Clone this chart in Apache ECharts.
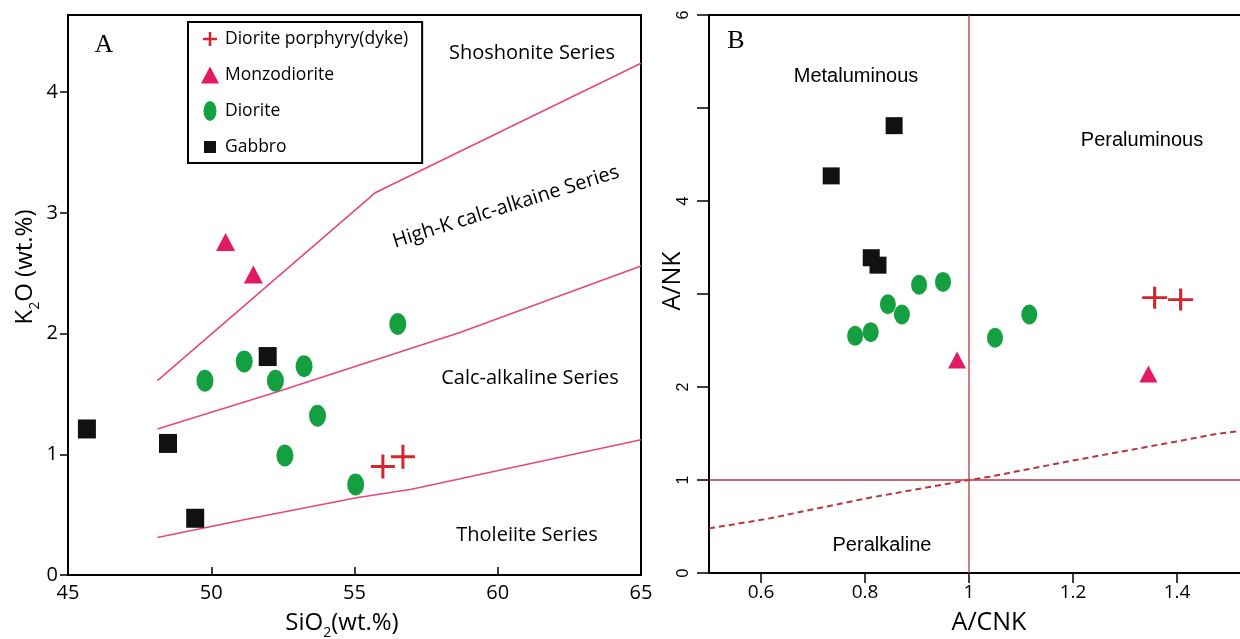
<!DOCTYPE html>
<html><head><meta charset="utf-8">
<script src="https://cdn.jsdelivr.net/npm/echarts@6/dist/echarts.min.js"></script>
<style>html,body{margin:0;padding:0;background:#fff}#c{width:1240px;height:639px}</style>
</head><body><div id="c"></div>
<script>
// ---- Panel A: SiO2 vs K2O ----
const seriesNames = ['Diorite porphyry(dyke)', 'Monzodiorite', 'Diorite', 'Gabbro'];
const sio2Porphyry = [55.99, 56.69];
const k2oPorphyry  = [0.90, 0.98];
const sio2Monzo = [50.50, 51.47];
const k2oMonzo  = [2.76, 2.49];
const sio2Diorite = [49.78, 51.15, 52.24, 53.24, 56.51, 53.71, 52.57, 55.04];
const k2oDiorite  = [1.61, 1.77, 1.61, 1.73, 2.08, 1.32, 0.99, 0.75];
const sio2Gabbro = [45.66, 48.49, 51.97, 49.44];
const k2oGabbro  = [1.21, 1.09, 1.81, 0.47];
// series boundaries
const shoshLineX = [48.12, 55.74, 65];
const shoshLineY = [1.61, 3.17, 4.24];
const highKLineX = [48.12, 52.06, 58.68, 65];
const highKLineY = [1.21, 1.50, 2.01, 2.56];
const tholLineX = [48.12, 51.1, 55.07, 56.99, 65];
const tholLineY = [0.31, 0.455, 0.64, 0.71, 1.12];
const xTicksA = [45, 50, 55, 60, 65];
const yTicksA = [0, 1, 2, 3, 4];

// ---- Panel B: A/CNK vs A/NK ----
const acnkPorphyry = [1.357, 1.407];
const ankPorphyry  = [2.96, 2.94];
const acnkMonzo = [0.977, 1.345];
const ankMonzo  = [2.29, 2.14];
const acnkDiorite = [0.781, 0.811, 0.844, 0.871, 0.904, 0.950, 1.050, 1.116];
const ankDiorite  = [2.55, 2.59, 2.89, 2.78, 3.10, 3.13, 2.53, 2.78];
const acnkGabbro = [0.856, 0.735, 0.812, 0.825];
const ankGabbro  = [4.81, 4.27, 3.39, 3.31];
const vLineX = [1, 1];
const vLineY = [0, 6];
const hLineX = [0.5, 1.525];
const hLineY = [1, 1];
const dashX = [0.5, 0.61, 0.8, 1.0, 1.04, 1.2, 1.4, 1.47, 1.525];
const dashY = [0.48, 0.58, 0.80, 1.0, 1.036, 1.21, 1.415, 1.49, 1.53];
const xTicksB = [0.6, 0.8, 1, 1.2, 1.4];
const yTicksBLabels = [0, 1, 2, 4, 6];
const yTicksB = [0, 1, 2, 3, 4, 5, 6];

const zip = (a, b) => a.map((v, i) => [v, b[i]]);

const FONT = "'Open Sans', 'Noto Sans', sans-serif";
const ARIAL = "'Liberation Sans', Arial, sans-serif";
const SERIF = "'Liberation Serif', 'DejaVu Serif', serif";

const crossPath = 'path://M10.5,0H13.5V10.5H24V13.5H13.5V24H10.5V13.5H0V10.5H10.5Z';
const ellipsePath = 'path://M0,1A1,1 0 1,0 2,1A1,1 0 1,0 0,1Z';

const C_CROSS = '#d3252b', C_TRI = '#e21a63', C_DIO = '#14a040', C_GAB = '#111111';
const C_PINK = '#e6477f', C_RED = '#b8363c';

function sc(name, xi, xs, ys, symbol, size, color) {
  return { name, type: 'scatter', xAxisIndex: xi, yAxisIndex: xi, data: zip(xs, ys),
    symbol, symbolSize: size, itemStyle: { color, opacity: 1 }, z: 5, silent: true };
}
function ln(xi, xs, ys, color, width, type) {
  return { type: 'line', xAxisIndex: xi, yAxisIndex: xi, data: zip(xs, ys), showSymbol: false,
    symbol: 'none', lineStyle: { color, width, type: type || 'solid' }, z: 2, silent: true, animation: false };
}

const chart = echarts.init(document.getElementById('c'), null, { renderer: 'canvas' });
const axisLineStyle = { color: '#000', width: 2 };

chart.setOption({
  animation: false,
  backgroundColor: '#fff',
  grid: [
    { left: 68, top: 15, width: 573, height: 560, show: true, borderColor: '#000', borderWidth: 2, backgroundColor: 'transparent', outerBoundsMode: 'none' },
    { left: 709, top: 15, width: 533, height: 558, show: true, borderColor: '#000', borderWidth: 2, backgroundColor: 'transparent', outerBoundsMode: 'none' }
  ],
  xAxis: [
    { gridIndex: 0, type: 'value', min: 45, max: 65, interval: 5,
      axisLine: { show: true, onZero: false, lineStyle: axisLineStyle },
      axisTick: { show: true, inside: true, length: 8, customValues: xTicksA, lineStyle: { color: '#000', width: 1.5 } },
      axisLabel: { customValues: xTicksA, fontSize: 20, color: '#000', fontFamily: FONT, margin: 8 },
      splitLine: { show: false } },
    { gridIndex: 1, type: 'value', min: 0.5, max: 1.525, interval: 0.1,
      axisLine: { show: true, onZero: false, lineStyle: axisLineStyle },
      axisTick: { show: true, inside: false, length: 10, customValues: xTicksB, lineStyle: { color: '#000', width: 1.5 } },
      axisLabel: { customValues: xTicksB, fontSize: 19, color: '#000', fontFamily: FONT, margin: 10,
        formatter: v => String(+v.toFixed(1)) },
      splitLine: { show: false } }
  ],
  yAxis: [
    { gridIndex: 0, type: 'value', min: 0, max: 4.64, interval: 1,
      axisLine: { show: true, onZero: false, lineStyle: axisLineStyle },
      axisTick: { show: true, inside: false, length: 8, customValues: yTicksA, lineStyle: { color: '#000', width: 1.5 } },
      axisLabel: { customValues: yTicksA, fontSize: 20, color: '#000', fontFamily: FONT, margin: 10 },
      splitLine: { show: false } },
    { gridIndex: 1, type: 'value', min: 0, max: 6, interval: 1,
      axisLine: { show: true, onZero: false, lineStyle: axisLineStyle },
      axisTick: { show: true, inside: false, length: 12, customValues: yTicksB, lineStyle: { color: '#000', width: 1.5 } },
      axisLabel: { customValues: yTicksBLabels, rotate: 90, fontSize: 16, color: '#000', fontFamily: ARIAL, margin: 17 },
      splitLine: { show: false } }
  ],
  legend: {
    orient: 'vertical', left: 188, top: 22,
    padding: [7, 14, 6, 12], itemGap: 16, itemWidth: 20, itemHeight: 22,
    backgroundColor: '#fff', borderColor: '#000', borderWidth: 2,
    textStyle: { fontSize: 17.5, color: '#000', fontFamily: FONT },
    selectedMode: false,
    data: [
      { name: seriesNames[0], icon: 'path://M0,0L0,0M20,20L20,20M8.75,3H11.25V8.75H17V11.25H11.25V17H8.75V11.25H3V8.75H8.75Z' },
      { name: seriesNames[1], icon: 'path://M0,0L0,0M20,20L20,20M10,1.5L19,18.5H1Z' },
      { name: seriesNames[2], icon: 'path://M0,0L0,0M20,20L20,20M3.5,10A6.5,10 0 1,0 16.5,10A6.5,10 0 1,0 3.5,10Z' },
      { name: seriesNames[3], icon: 'path://M0,0L0,0M20,20L20,20M4,4H16V16H4Z' }
    ]
  },
  graphic: [
    { type: 'text', x: 104, y: 45, style: { text: 'A', font: '26px ' + SERIF, fill: '#000', align: 'center', verticalAlign: 'middle', textAlign: 'center', textVerticalAlign: 'middle' } },
    { type: 'text', x: 532, y: 53, style: { text: 'Shoshonite Series', font: '20px ' + FONT, fill: '#000', align: 'center', verticalAlign: 'middle', textAlign: 'center', textVerticalAlign: 'middle' } },
    { type: 'text', x: 506, y: 207, rotation: 17.4 * Math.PI / 180, style: { text: 'High-K calc-alkaine Series', font: '20px ' + FONT, fill: '#000', align: 'center', verticalAlign: 'middle', textAlign: 'center', textVerticalAlign: 'middle' } },
    { type: 'text', x: 530, y: 378, style: { text: 'Calc-alkaline Series', font: '20px ' + FONT, fill: '#000', align: 'center', verticalAlign: 'middle', textAlign: 'center', textVerticalAlign: 'middle' } },
    { type: 'text', x: 527, y: 535, style: { text: 'Tholeiite Series', font: '20px ' + FONT, fill: '#000', align: 'center', verticalAlign: 'middle', textAlign: 'center', textVerticalAlign: 'middle' } },
    { type: 'text', x: 25, y: 267, rotation: Math.PI / 2, style: { text: '{n|K}{s|2}{n|O (wt.%)}', fill: '#000', align: 'center', verticalAlign: 'middle', textAlign: 'center', textVerticalAlign: 'middle',
        rich: { n: { fontSize: 24, fontFamily: FONT, lineHeight: 34, verticalAlign: 'middle' }, s: { fontSize: 14, fontFamily: FONT, lineHeight: 34, verticalAlign: 'bottom' } } } },
    { type: 'text', x: 342, y: 623, style: { text: '{n|SiO}{s|2}{n|(wt.%)}', fill: '#000', align: 'center', verticalAlign: 'middle', textAlign: 'center', textVerticalAlign: 'middle',
        rich: { n: { fontSize: 24, fontFamily: FONT, lineHeight: 34, verticalAlign: 'middle' }, s: { fontSize: 14, fontFamily: FONT, lineHeight: 34, verticalAlign: 'bottom' } } } },
    { type: 'text', x: 736, y: 41, style: { text: 'B', font: '26px ' + SERIF, fill: '#000', align: 'center', verticalAlign: 'middle', textAlign: 'center', textVerticalAlign: 'middle' } },
    { type: 'text', x: 856, y: 76, style: { text: 'Metaluminous', font: '20px ' + ARIAL, fill: '#000', align: 'center', verticalAlign: 'middle', textAlign: 'center', textVerticalAlign: 'middle' } },
    { type: 'text', x: 1142, y: 140, style: { text: 'Peraluminous', font: '20px ' + ARIAL, fill: '#000', align: 'center', verticalAlign: 'middle', textAlign: 'center', textVerticalAlign: 'middle' } },
    { type: 'text', x: 882, y: 545, style: { text: 'Peralkaline', font: '20px ' + ARIAL, fill: '#000', align: 'center', verticalAlign: 'middle', textAlign: 'center', textVerticalAlign: 'middle' } },
    { type: 'text', x: 989, y: 623, style: { text: 'A/CNK', font: '25px ' + FONT, fill: '#000', align: 'center', verticalAlign: 'middle', textAlign: 'center', textVerticalAlign: 'middle' } },
    { type: 'text', x: 673, y: 281, rotation: Math.PI / 2, style: { text: 'A/NK', font: '25px ' + FONT, fill: '#000', align: 'center', verticalAlign: 'middle', textAlign: 'center', textVerticalAlign: 'middle' } }
  ],
  series: [
    ln(0, shoshLineX, shoshLineY, C_PINK, 1.6),
    ln(0, highKLineX, highKLineY, C_PINK, 1.6),
    ln(0, tholLineX, tholLineY, C_PINK, 1.6),
    sc(seriesNames[0], 0, sio2Porphyry, k2oPorphyry, crossPath, 24, C_CROSS),
    sc(seriesNames[1], 0, sio2Monzo, k2oMonzo, 'triangle', [19, 18], C_TRI),
    sc(seriesNames[2], 0, sio2Diorite, k2oDiorite, ellipsePath, [17, 22], C_DIO),
    sc(seriesNames[3], 0, sio2Gabbro, k2oGabbro, 'rect', [18, 19], C_GAB),
    ln(1, vLineX, vLineY, C_RED, 1.3),
    ln(1, hLineX, hLineY, C_RED, 1.3),
    ln(1, dashX, dashY, C_RED, 2, [6, 4]),
    sc(seriesNames[0], 1, acnkPorphyry, ankPorphyry, crossPath, [25, 22], C_CROSS),
    sc(seriesNames[1], 1, acnkMonzo, ankMonzo, 'triangle', [18, 17], C_TRI),
    sc(seriesNames[2], 1, acnkDiorite, ankDiorite, ellipsePath, [16, 20], C_DIO),
    sc(seriesNames[3], 1, acnkGabbro, ankGabbro, 'rect', [17, 17], C_GAB)
  ]
});
</script>
</body></html>
